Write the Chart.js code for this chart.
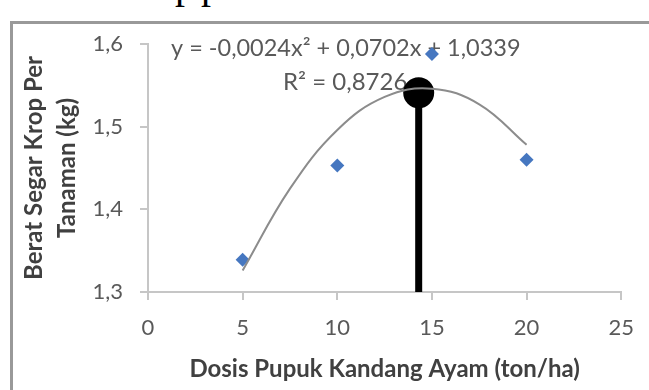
<!DOCTYPE html>
<html>
<head>
<meta charset="utf-8">
<script src="https://cdn.jsdelivr.net/npm/chart.js@4/dist/chart.umd.min.js"></script>
<style>
  body { margin: 0; background: #fff; }
  #wrap { position: relative; width: 649px; height: 390px; overflow: hidden; }
  #frame { position: absolute; left: 10px; top: 21px; width: 660px; height: 400px;
           border-top: 3px solid #999; border-left: 3px solid #999; }
  #above { position: absolute; left: 175px; top: -35px; font: 40px/40px "Liberation Serif", serif;
           letter-spacing: 6px; color: #000; }
  canvas { position: absolute; left: 0; top: 0; }
</style>
</head>
<body>
<div id="wrap">
  <div id="above">pp</div>
  <div id="frame"></div>
  <canvas id="chart" width="649" height="390"></canvas>
</div>
<script>
//observed values
const dosis = [5, 10, 15, 20];
const berat = [1.339, 1.453, 1.588, 1.460];
//polynomial trendline
const trendX = [5, 7.5, 10, 12.5, 15, 17.5, 20];
const trendY = [1.326, 1.425, 1.496, 1.536, 1.546, 1.527, 1.478];
//black marker with its stem down to the axis
const markX = [14.3, 14.3];
const markY = [1.541, 1.3];
//labels
const yTickLabels = { "1.3": "1,3", "1.4": "1,4", "1.5": "1,5", "1.6": "1,6" };
const equationText = "y = -0,0024x\u00b2 + 0,0702x + 1,0339";
const r2Text = "R\u00b2 = 0,8726";

const toPoints = (xs, ys) => xs.map((x, i) => ({ x: x, y: ys[i] }));

//draws the trendline equation under the markers
const equationPlugin = {
  id: "equation",
  beforeDatasetsDraw(chart) {
    const ctx = chart.ctx;
    ctx.save();
    ctx.fillStyle = "#595959";
    ctx.textBaseline = "middle";
    ctx.textAlign = "left";
    ctx.font = "23.5px Lato";
    ctx.fillText(equationText, 171, 48);
    ctx.font = "24px Lato";
    ctx.fillText(r2Text, 283, 82);
    ctx.restore();
  },
};

new Chart(document.getElementById("chart"), {
  type: "scatter",
  plugins: [equationPlugin],
  data: {
    datasets: [
      {
        data: toPoints(trendX, trendY),
        showLine: true,
        borderColor: "#8c8c8c",
        borderWidth: 2,
        tension: 0.4,
        pointRadius: 0,
      },
      {
        data: toPoints(dosis, berat),
        pointStyle: "rectRot",
        pointRadius: 7,
        backgroundColor: "#4677c0",
        borderColor: "#4677c0",
        borderWidth: 0,
      },
      {
        data: toPoints(markX, markY),
        showLine: true,
        borderColor: "#000",
        borderWidth: 7,
        pointRadius: [12, 0],
        backgroundColor: "#000",
        borderCapStyle: "butt",
        clip: false,
      },
    ],
  },
  options: {
    responsive: false,
    animation: false,
    layout: { padding: { top: 44, right: 26, left: 0, bottom: 0 } },
    plugins: { legend: { display: false }, tooltip: { enabled: false } },
    scales: {
      x: {
        min: 0,
        max: 25,
        ticks: { stepSize: 5, color: "#595959", font: { family: "Lato", size: 22 }, padding: 15, maxRotation: 0 },
        grid: { drawOnChartArea: false, color: "#c6c6c6", tickLength: 8, lineWidth: 2 },
        border: { color: "#c6c6c6", width: 2 },
        title: {
          display: true,
          text: "Dosis Pupuk Kandang Ayam (ton/ha)",
          color: "#404040",
          font: { family: "Lato", size: 24, weight: "bold" },
          padding: { top: 0, bottom: 6 },
        },
        afterFit: (s) => { s.height = 98; },
      },
      y: {
        min: 1.3,
        max: 1.6,
        ticks: {
          stepSize: 0.1,
          color: "#595959",
          font: { family: "Lato", size: 22 },
          padding: 17,
          callback: (v) => yTickLabels[v.toFixed(1)],
        },
        grid: { drawOnChartArea: false, color: "#c6c6c6", tickLength: 8, lineWidth: 2 },
        border: { color: "#c6c6c6", width: 2 },
        title: {
          display: true,
          text: ["Berat Segar Krop Per", "Tanaman (kg)"],
          color: "#404040",
          font: { family: "Lato", size: 24, weight: "bold", lineHeight: 1.375 },
          padding: { top: 18, bottom: 0 },
        },
        afterFit: (s) => { s.width = 148; },
      },
    },
  },
});
</script>
</body>
</html>
